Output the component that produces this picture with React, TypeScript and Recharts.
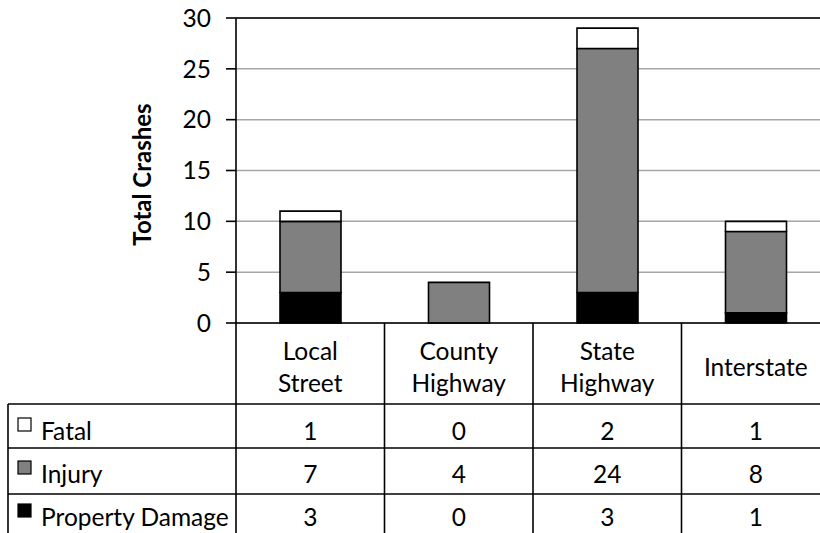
import { BarChart, Bar, XAxis, YAxis, CartesianGrid, ReferenceLine, Label } from 'recharts'

// ─── Data ─────────────────────────────────────────────────────────────────────

const CATEGORIES = ['Local Street', 'County Highway', 'State Highway', 'Interstate']
const CATEGORY_LINES = [['Local', 'Street'], ['County', 'Highway'], ['State', 'Highway'], ['Interstate']]
const FATAL = [1, 0, 2, 1]
const INJURY = [7, 4, 24, 8]
const PROPERTY_DAMAGE = [3, 0, 3, 1]
const Y_TICKS = [0, 5, 10, 15, 20, 25, 30]

const SERIES = [
  { key: 'fatal', label: 'Fatal', fill: '#ffffff', values: FATAL },
  { key: 'injury', label: 'Injury', fill: '#808080', values: INJURY },
  { key: 'property', label: 'Property Damage', fill: '#000000', values: PROPERTY_DAMAGE },
]

const data = CATEGORIES.map((name, i) => ({
  name,
  fatal: FATAL[i],
  injury: INJURY[i],
  property: PROPERTY_DAMAGE[i],
}))

// ─── Layout ───────────────────────────────────────────────────────────────────

const CHART_W = 830
const CHART_H = 545
const Y_AXIS_W = 236
const TOP = 18
const PLOT_H = 305
const BAND = (CHART_W - Y_AXIS_W) / CATEGORIES.length
const HEADER_H = 81
const ROW_H = [44, 46, 46]
const ROW_BASE = [36, 35, 32]
const TABLE_LEFT = 8
const FONT = 24.5
const LINE = 1.6

// ─── Table drawn as x-axis ticks ──────────────────────────────────────────────

function TableTick(props: any) {
  const { x, y, index } = props
  const left = x - BAND / 2
  const right = x + BAND / 2
  const lines = CATEGORY_LINES[index]
  const headerMid = y + HEADER_H / 2
  const firstBase = headerMid + 12 - ((lines.length - 1) * 32) / 2
  const rowTops: number[] = []
  let acc = y + HEADER_H
  for (const h of ROW_H) {
    rowTops.push(acc)
    acc += h
  }
  return (
    <g>
      {lines.map((ln, k) => (
        <text key={k} x={x} y={firstBase + k * 32} textAnchor="middle" fontSize={FONT} fill="#000">
          {ln}
        </text>
      ))}
      <line x1={right} x2={right} y1={y} y2={y + 240} stroke="#000" strokeWidth={LINE} />
      {index === 0 && (
        <line x1={left} x2={left} y1={y} y2={y + 240} stroke="#000" strokeWidth={LINE} />
      )}
      {SERIES.map((s, r) => (
        <g key={s.key}>
          <line
            x1={index === 0 ? TABLE_LEFT : left}
            x2={right}
            y1={rowTops[r]}
            y2={rowTops[r]}
            stroke="#000"
            strokeWidth={LINE}
          />
          <text x={x} y={rowTops[r] + ROW_BASE[r]} textAnchor="middle" fontSize={FONT} fill="#000">
            {s.values[index]}
          </text>
          {index === 0 && (
            <g>
              <rect
                x={18}
                y={rowTops[r] + ROW_BASE[r] - 22}
                width={13}
                height={13}
                fill={s.fill}
                stroke="#000"
                strokeWidth={1.2}
              />
              <text x={41} y={rowTops[r] + ROW_BASE[r]} fontSize={FONT} fill="#000">
                {s.label}
              </text>
            </g>
          )}
        </g>
      ))}
      {index === 0 && (
        <line x1={TABLE_LEFT} x2={TABLE_LEFT} y1={rowTops[0]} y2={y + 240} stroke="#000" strokeWidth={LINE} />
      )}
    </g>
  )
}

function AxisTitle(props: any) {
  const { viewBox } = props
  const cx = viewBox.x + 141
  const cy = viewBox.y + viewBox.height / 2 + 4
  return (
    <text
      x={cx}
      y={cy}
      transform={`rotate(-90, ${cx}, ${cy})`}
      textAnchor="middle"
      dominantBaseline="central"
      fontSize={24}
      fontWeight="bold"
      fill="#000"
    >
      Total Crashes
    </text>
  )
}

// ─── Chart ────────────────────────────────────────────────────────────────────

export default function App() {
  return (
    <div
      style={{
        position: 'absolute',
        left: 0,
        top: 0,
        width: 820,
        height: 533,
        overflow: 'hidden',
        background: '#fff',
        fontFamily: 'Lato, "Open Sans", sans-serif',
      }}
    >
      <BarChart
        width={CHART_W}
        height={CHART_H}
        data={data}
        margin={{ top: TOP, right: 0, left: 0, bottom: 0 }}
        barSize={61}
      >
        <CartesianGrid vertical={false} stroke="#a6a6a6" strokeWidth={1.5} />
        <ReferenceLine y={30} stroke="#000" strokeWidth={LINE} />
        <XAxis
          dataKey="name"
          height={CHART_H - TOP - PLOT_H}
          axisLine={{ stroke: '#000', strokeWidth: LINE }}
          tickLine={false}
          tickSize={0}
          tickMargin={0}
          interval={0}
          tick={<TableTick />}
        />
        <YAxis
          width={Y_AXIS_W}
          domain={[0, 30]}
          ticks={Y_TICKS}
          tickSize={10}
          tickMargin={15}
          axisLine={{ stroke: '#000', strokeWidth: LINE }}
          tickLine={{ stroke: '#000', strokeWidth: LINE }}
          tick={{ fill: '#000', fontSize: FONT }}
        >
          <Label content={<AxisTitle />} />
        </YAxis>
        <Bar dataKey="property" stackId="a" fill="#000000" stroke="#000" strokeWidth={LINE} isAnimationActive={false} />
        <Bar dataKey="injury" stackId="a" fill="#808080" stroke="#000" strokeWidth={LINE} isAnimationActive={false} />
        <Bar dataKey="fatal" stackId="a" fill="#ffffff" stroke="#000" strokeWidth={LINE} isAnimationActive={false} />
      </BarChart>
    </div>
  )
}
